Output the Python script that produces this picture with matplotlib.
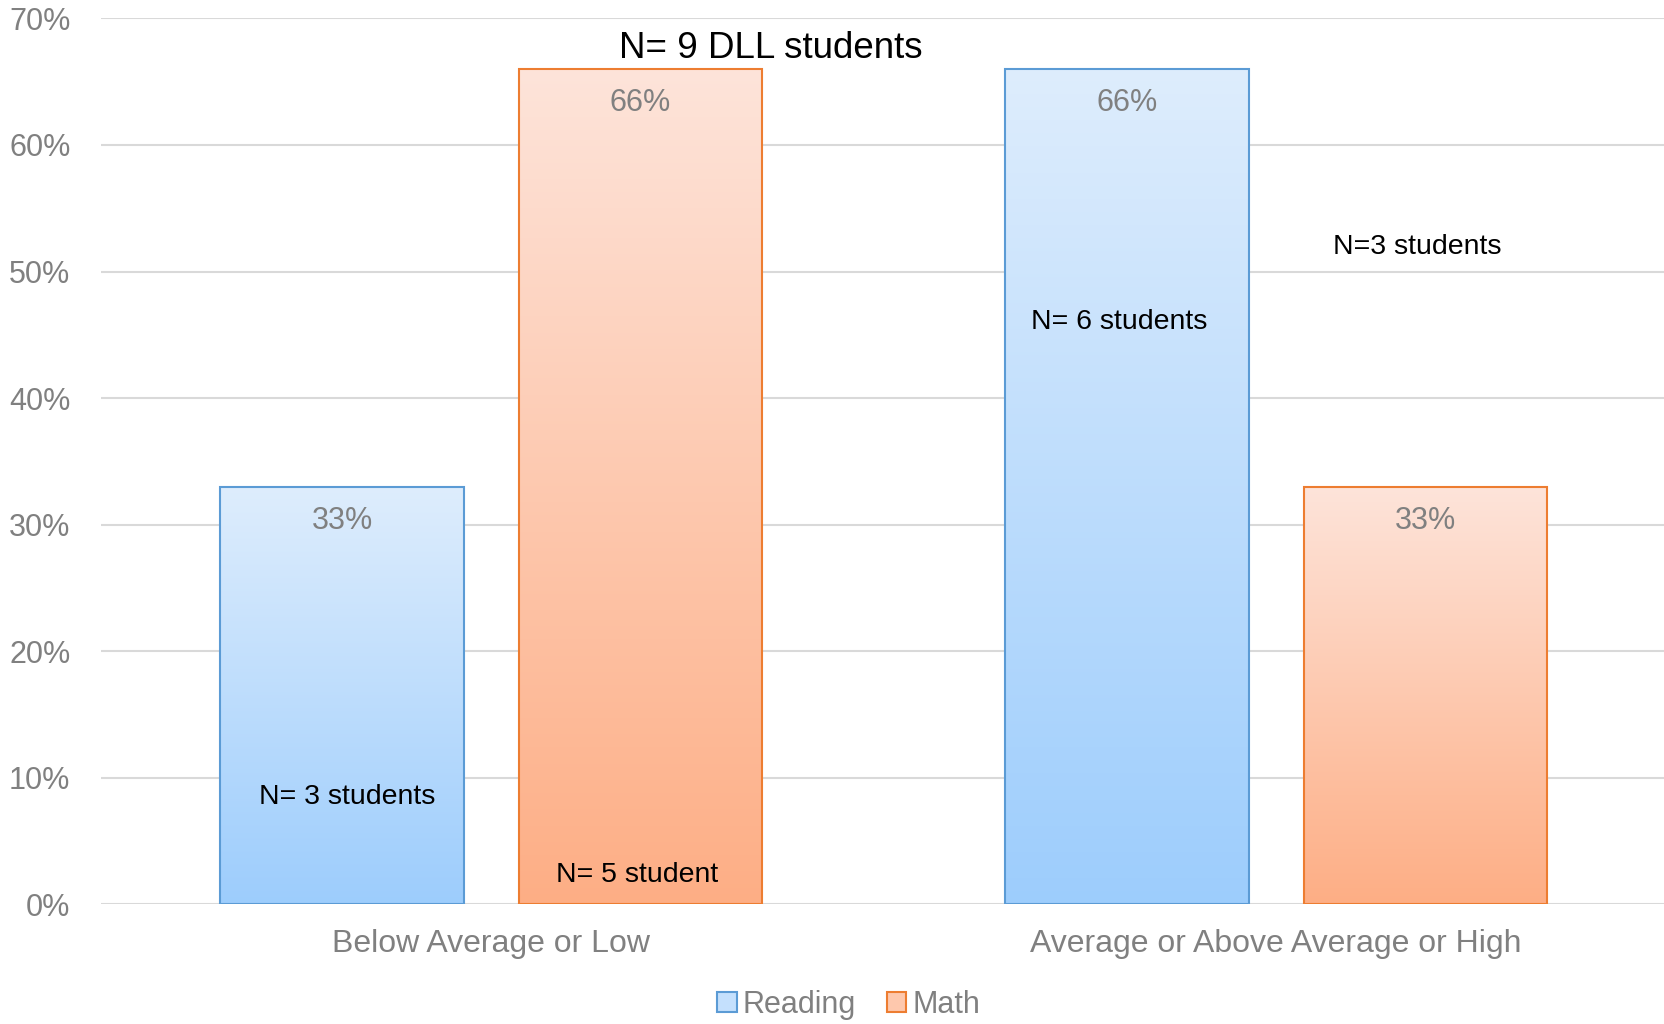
import matplotlib.pyplot as plt
import matplotlib.colors as mcolors
from matplotlib.patches import Patch
import numpy as np

plt.rcParams['font.family'] = ['Liberation Sans', 'DejaVu Sans']

categories = ['Below Average or Low', 'Average or Above Average or High']
reading = [33, 66]
math = [66, 33]
series_names = ['Reading', 'Math']

# free-standing notes: (text, x in category units, y in percent)
notes = [
    ('N= 3 students', -0.184, 8.45),
    ('N= 5 student', 0.186, 2.3),
    ('N= 6 students', 0.80, 46.0),
    ('N=3 students', 1.18, 51.9),
]
headline = ('N= 9 DLL students', 0.356, 67.6)

blue_top, blue_bot, blue_edge = '#deedfd', '#9dcdfc', '#5b9bd5'
org_top, org_bot, org_edge = '#fee4da', '#fdae85', '#ed7d31'
grey = '#808080'

fig = plt.figure(figsize=(16.64, 10.24), dpi=100)
ax = fig.add_axes([0.0607, 0.117, 0.9393, 0.865])

width = 0.31
offset = 0.19
x = np.arange(len(categories))


def gradient_bar(xc, h, top, bot, edge):
    cmap = mcolors.LinearSegmentedColormap.from_list('g', [bot, top])
    grad = np.linspace(0, 1, 256).reshape(-1, 1)
    ax.imshow(grad, extent=[xc - width / 2, xc + width / 2, 0, h],
              origin='lower', aspect='auto', cmap=cmap, vmin=0, vmax=1, zorder=2)
    ax.bar(xc, h, width, facecolor='none', edgecolor=edge, linewidth=1.5, zorder=3)
    ax.text(xc, h - 2.7, f'{h}%', ha='center', va='center', fontsize=22, color=grey, zorder=4)


for i in range(len(categories)):
    gradient_bar(x[i] - offset, reading[i], blue_top, blue_bot, blue_edge)
    gradient_bar(x[i] + offset, math[i], org_top, org_bot, org_edge)

for txt, nx, ny in notes:
    ax.text(nx, ny, txt, ha='center', va='center', fontsize=20.5, color='black', zorder=5)
ax.text(headline[1], headline[2], headline[0], ha='center', va='center', fontsize=26.5,
        color='black', zorder=5)

ax.set_xlim(-0.497, 1.494)
ax.set_ylim(0, 70)
ax.set_yticks(range(0, 71, 10))
ax.set_yticklabels([f'{v}%' for v in range(0, 71, 10)])
ax.set_xticks(x)
ax.set_xticklabels(categories)
ax.tick_params(axis='both', length=0, labelsize=22, labelcolor=grey)
ax.tick_params(axis='x', labelsize=23, pad=18)
ax.tick_params(axis='y', pad=22)
ax.grid(axis='y', color='#d9d9d9', linewidth=1.5, zorder=0)
ax.set_axisbelow(True)
for s in ax.spines.values():
    s.set_visible(False)

handles = [Patch(facecolor='#c4e0fd', edgecolor=blue_edge, linewidth=1.5),
           Patch(facecolor='#fec8ad', edgecolor=org_edge, linewidth=1.5)]
leg = fig.legend(handles, series_names, loc='center', bbox_to_anchor=(0.51, 0.019), ncol=2,
                 frameon=False, fontsize=22, handlelength=0.65, handleheight=0.65,
                 handletextpad=0.2, columnspacing=1.0)
for t in leg.get_texts():
    t.set_color(grey)

fig.savefig('out.png', dpi=100)
